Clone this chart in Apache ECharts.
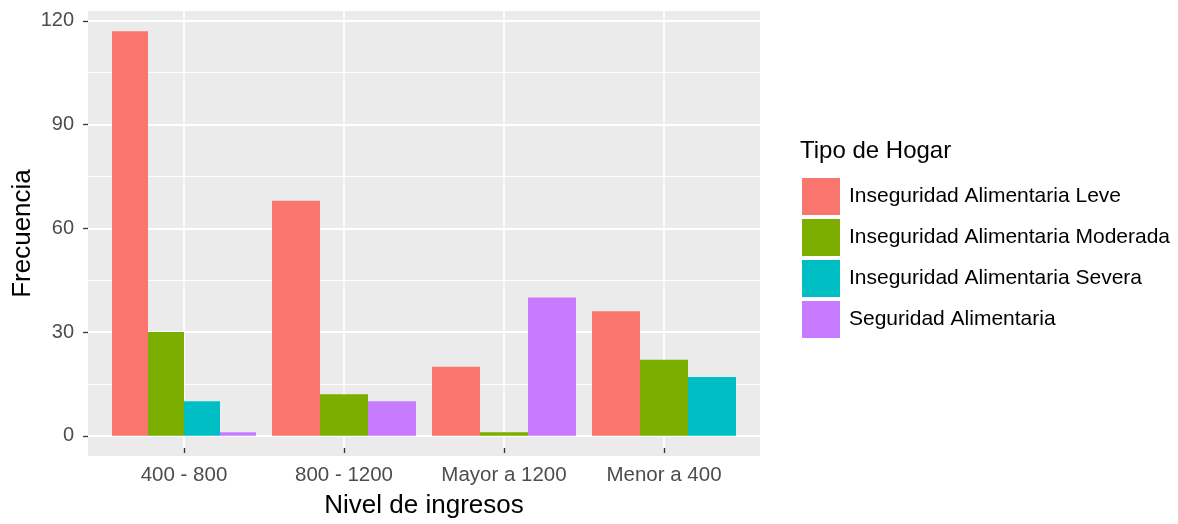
<!DOCTYPE html>
<html>
<head>
<meta charset="utf-8">
<script src="https://cdn.jsdelivr.net/npm/echarts@6/dist/echarts.min.js"></script>
<style>html,body{margin:0;padding:0;background:#fff}#c{width:1178px;height:524px}</style>
</head>
<body>
<div id="c"></div>
<script>
// ---- data ----
const categories = ['400 - 800', '800 - 1200', 'Mayor a 1200', 'Menor a 400'];
const seriesNames = ['Inseguridad Alimentaria Leve', 'Inseguridad Alimentaria Moderada', 'Inseguridad Alimentaria Severa', 'Seguridad Alimentaria'];
const leve = [117, 68, 20, 36];
const moderada = [30, 12, 1, 22];
const severa = [10, null, null, 17];
const seguridad = [1, 10, 40, null];
const yTicks = [0, 30, 60, 90, 120];
const colors = ['#F8766D', '#7CAE00', '#00BFC4', '#C77CFF'];

const values = [leve, moderada, severa, seguridad];
const FONT = "'Liberation Sans', Arial, sans-serif";

// dodge like ggplot: the groups present in a category share 0.9 of its width
function presentIn(ci) {
  const out = [];
  values.forEach((arr, s) => { if (arr[ci] !== null && arr[ci] !== undefined) out.push(s); });
  return out;
}

function makeSeries(s) {
  const data = [];
  values[s].forEach((v, ci) => { if (v !== null) data.push([ci, v]); });
  return {
    type: 'custom',
    name: seriesNames[s],
    xAxisIndex: 1,
    yAxisIndex: 1,
    z: 10,
    itemStyle: { color: colors[s] },
    data: data,
    clip: false,
    renderItem: function (params, api) {
      const ci = api.value(0);
      const v = api.value(1);
      const present = presentIn(ci);
      const n = present.length;
      const k = present.indexOf(s);
      const slot = 0.9 / n;
      const x0 = ci - 0.45 + k * slot;
      const p0 = api.coord([x0, 0]);
      const p1 = api.coord([x0 + slot, v]);
      return {
        type: 'rect',
        shape: { x: p0[0], y: p1[1], width: p1[0] - p0[0], height: p0[1] - p1[1] },
        style: { fill: colors[s] }
      };
    }
  };
}

const chart = echarts.init(document.getElementById('c'), null, { renderer: 'canvas' });
const option = {
  backgroundColor: '#ffffff',
  animation: false,
  title: {
    text: 'Tipo de Hogar',
    left: 795,
    top: 134,
    textStyle: { fontFamily: FONT, fontSize: 24, fontWeight: 'normal', color: '#000' }
  },
  legend: {
    orient: 'vertical',
    left: 797,
    top: 173,
    itemWidth: 38,
    itemHeight: 37,
    itemGap: 4,
    icon: 'rect',
    data: seriesNames,
    selectedMode: false,
    textStyle: { fontFamily: FONT, fontSize: 21, color: '#000', padding: [0, 0, 0, 4] }
  },
  grid: [
    { left: 88, top: 11, width: 672, height: 445, show: true, backgroundColor: '#EBEBEB', borderWidth: 0, containLabel: false },
    { left: 88, top: 20.8, width: 672, height: 415, show: false, containLabel: false },
    { left: 184, top: 11, width: 480, height: 445, show: false, containLabel: false }
  ],
  xAxis: [
    { gridIndex: 0, type: 'value', min: 0, max: 1, show: false },
    { gridIndex: 1, type: 'value', min: -0.6, max: 3.6, show: false },
    {
      gridIndex: 2, type: 'category', data: categories, boundaryGap: false, position: 'bottom',
      axisLine: { show: false, onZero: false },
      axisTick: { show: true, inside: false, interval: 0, length: 5, lineStyle: { color: '#333333', width: 1.3 } },
      axisLabel: { interval: 0, fontFamily: FONT, fontSize: 20.5, color: '#4D4D4D', margin: 17 },
      splitLine: { show: true, interval: 0, lineStyle: { color: '#FFFFFF', width: 1.6 } },
      name: 'Nivel de ingresos', nameLocation: 'middle', nameGap: 45,
      nameTextStyle: { fontFamily: FONT, fontSize: 26, color: '#000' }
    }
  ],
  yAxis: [
    {
      gridIndex: 0, type: 'value', min: 0, max: 1,
      axisLine: { show: false, onZero: false }, axisTick: { show: false }, axisLabel: { show: false }, splitLine: { show: false },
      name: 'Frecuencia', nameLocation: 'middle', nameGap: 52,
      nameTextStyle: { fontFamily: FONT, fontSize: 26, color: '#000' }
    },
    {
      gridIndex: 1, type: 'value', min: yTicks[0], max: yTicks[yTicks.length - 1], interval: 30,
      axisLine: { show: false, onZero: false },
      axisTick: { show: true, length: 5, lineStyle: { color: '#333333', width: 1.3 } },
      axisLabel: { fontFamily: FONT, fontSize: 20, color: '#4D4D4D', margin: 14 },
      splitLine: { show: true, lineStyle: { color: '#FFFFFF', width: 1.8 } },
      minorTick: { show: false, splitNumber: 2 },
      minorSplitLine: { show: true, lineStyle: { color: '#FFFFFF', width: 0.9 } }
    },
    { gridIndex: 2, type: 'value', min: 0, max: 1, show: false }
  ],
  series: [0, 1, 2, 3].map(makeSeries)
};
chart.setOption(option);
</script>
</body>
</html>
